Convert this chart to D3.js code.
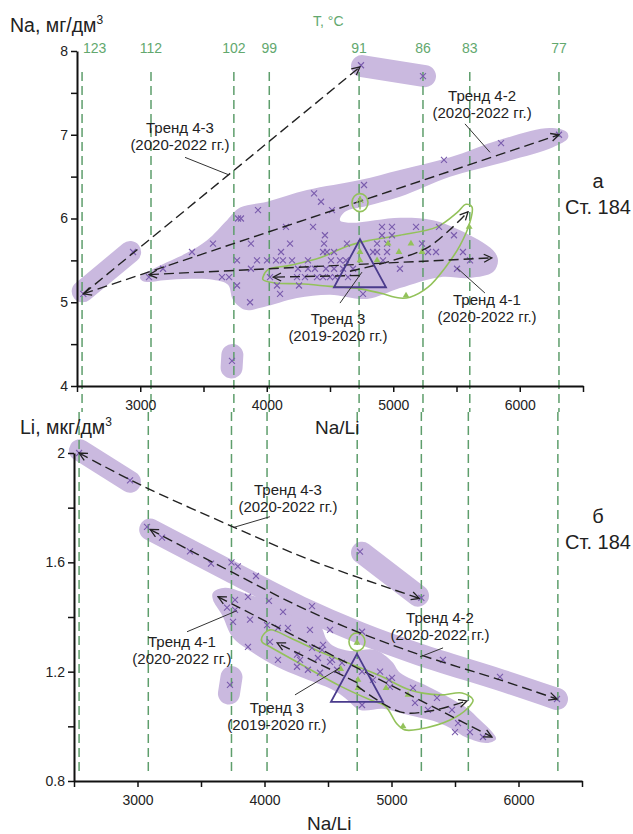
<!DOCTYPE html>
<html>
<head>
<meta charset="utf-8">
<script src="https://cdn.jsdelivr.net/npm/d3@7"></script>
<style>
  body { margin: 0; background: #fff; }
  text { font-family: "Liberation Sans", Arial, sans-serif; fill: #222; }
</style>
</head>
<body>
<script>
// temperature isolines (Na/Li value of each T line)
var tempLabels = ["123", "112", "102", "99", "91", "86", "83", "77"];
var tempNaLi = [2540, 3085, 3740, 4020, 4730, 5235, 5605, 6310];

// ---- panel а : Na vs Na/Li ----
var naPoints = [
  [4769,6.4],[4374,6.3],[4429,6.2],[4516,6.1],[3931,6.1],[3773,6.0],[3796,6.0],[4152,5.9],[4366,5.9],[4460,5.8],
  [3575,5.7],[3875,5.7],[4184,5.7],[4453,5.7],[4634,5.7],
  [4911,5.9],[4990,5.9],[4911,5.8],[4990,5.8],[4872,5.7],[4951,5.7],
  [3409,5.6],[4113,5.6],[4445,5.6],[4532,5.6],[4476,5.6],
  [3765,5.5],[3923,5.5],[4002,5.5],[4073,5.5],[4128,5.5],[4200,5.5],[4326,5.5],[4508,5.5],[4579,5.5],[4626,5.5],
  [3875,5.4],[4247,5.4],[4326,5.4],[4381,5.4],[4468,5.4],[4532,5.4],[4603,5.4],[4682,5.4],
  [3646,5.3],[3702,5.3],[4026,5.3],[4239,5.3],[4302,5.3],[4397,5.3],[4445,5.3],[4500,5.3],[4540,5.3],[4642,5.3],
  [3765,5.2],[4081,5.2],[4255,5.2],[4105,5.1],[4761,5.1],[3868,5.0],[3180,5.4],[3069,5.3],
  [5180,5.9],[5362,5.9],[5480,5.8],[5227,5.7],
  [4840,5.6],[4872,5.6],[4951,5.6],[5275,5.6],[5338,5.6],[5551,5.6],
  [4919,5.5],[5607,5.5],[5053,5.4],[5504,5.4],
  [2550,5.1],[2943,5.6],[3725,4.3],[4745,7.83],[5235,7.7],[5401,6.7],[5852,6.9],[6310,7.0]
];
var naTri = [[4737,5.6],[4737,5.5],[4959,5.7],[5140,5.7],[5045,5.6],[5227,5.6],[4872,5.5],[5101,5.08],[5600,5.9]];
var naBlob = [
  [2998,5.30],[3132,5.42],[3370,5.59],[3528,5.74],[3686,5.98],[3789,6.13],[4002,6.20],[4318,6.34],[4737,6.46],
  [5053,6.58],[5449,6.73],[5844,6.94],[6239,7.08],[6373,7.03],[6381,6.96],[6263,6.85],[5844,6.66],[5449,6.50],
  [5053,6.26],[4792,6.15],[4619,6.08],[4579,5.98],[4658,5.95],[5053,6.01],[5314,5.98],[5528,5.86],[5789,5.62],
  [5828,5.50],[5789,5.36],[5607,5.29],[5370,5.30],[5053,5.17],[4792,5.04],[4500,5.09],[4239,5.05],[3970,4.94],
  [3828,4.91],[3733,5.03],[3694,5.21],[3575,5.27],[3235,5.27],[3022,5.25]
];
var naBands = [
  [[2545,5.13],[2920,5.6]],
  [[4753,7.82],[5251,7.70]],
  [[3728,4.37],[3722,4.22]]
];
var naLoop = [
  [3970,5.30],[4010,5.39],[4184,5.44],[4421,5.53],[4634,5.67],[4816,5.74],[5053,5.80],[5346,5.90],[5504,6.07],
  [5575,6.17],[5622,6.14],[5607,5.96],[5528,5.68],[5409,5.41],[5275,5.18],[5132,5.06],[5053,5.05],[4895,5.11],
  [4737,5.16],[4500,5.19],[4263,5.22],[4065,5.23],[3970,5.27]
];
var naCircle = [4737, 6.19];
var naMean = [4737, 5.37];
var naTrends = [
  {pts: [[2550,5.1],[4737,7.81]], a0: false, a1: true},
  {pts: [[2550,5.1],[6310,7.0]], a0: true, a1: true},
  {pts: [[3069,5.33],[5780,5.53]], a0: true, a1: true},
  {pts: [[4737,5.32],[4050,5.3]], a0: false, a1: true},
  {pts: [[4658,5.37],[4998,5.5],[5267,5.65],[5472,5.9],[5591,6.08]], a0: false, a1: true}
];
var naNotes = [
  {lines: ["Тренд 4-3", "(2020-2022 гг.)"], at: [3314,7.02], from: [3354,6.73], to: [3702,6.52]},
  {lines: ["Тренд 4-2", "(2020-2022 гг.)"], at: [5702,7.40], from: [5567,7.13], to: [5765,6.79]},
  {lines: ["Тренд 4-1", "(2020-2022 гг.)"], at: [5741,4.97], from: [5725,5.11], to: [5504,5.41]},
  {lines: ["Тренд 3", "(2019-2020 гг.)"], at: [4563,4.74], from: [4579,4.99], to: [4753,5.36]}
];

// ---- panel б : Li vs Na/Li ----
var liPoints = [
  [2540,2.0],[2941,1.9],[3075,1.73],[3193,1.69],[3413,1.64],[3579,1.595],[3740,1.6],[3790,1.585],[3933,1.55],
  [3705,1.434],[3768,1.463],[3870,1.474],[4035,1.459],[4146,1.419],[4374,1.44],
  [3752,1.382],[3886,1.39],[4020,1.37],[4106,1.36],[4185,1.36],[4358,1.353],[4516,1.353],
  [3768,1.426],[3870,1.291],[4043,1.309],[4106,1.243],[4256,1.262],[4280,1.243],[4374,1.287],[4421,1.25],
  [4453,1.28],[4461,1.298],[4256,1.218],[4532,1.243],[4571,1.207],[4610,1.232],
  [4910,1.2],[5004,1.177],[4854,1.17],[4988,1.144],[4768,1.078],[3728,1.152],[4768,1.346],
  [4516,1.236],[4342,1.207],[4437,1.196],[4768,1.2],[4980,1.17],[5169,1.141],[5185,1.086],[5358,1.104],
  [5287,1.06],[5476,1.06],[5405,1.243],[5854,1.181],[6303,1.1],[5524,1.012],[5618,0.979],[5500,0.979],
  [5720,0.961],[4752,1.639],[5235,1.47]
];
var liTri = [[4736,1.17],[4736,1.14],[4957,1.14],[5130,1.115],[5091,1.0],[4600,1.21],[4728,1.306]];
var liBlob = [
  [3594,1.489],[3689,1.507],[3886,1.481],[4083,1.452],[4280,1.419],[4437,1.371],[4492,1.316],[4555,1.291],
  [4673,1.276],[4870,1.280],[5004,1.236],[5067,1.196],[5280,1.148],[5461,1.104],[5594,1.067],[5697,1.023],
  [5791,0.980],[5823,0.954],[5752,0.939],[5594,0.958],[5461,0.994],[5327,1.020],[5201,1.034],[5067,1.049],
  [4933,1.064],[4752,1.060],[4634,1.104],[4539,1.133],[4280,1.181],[4098,1.218],[3909,1.269],[3752,1.324],
  [3665,1.408],[3594,1.463]
];
var liBands = [
  [[2547,2.01],[2941,1.895]],
  [[4768,1.635],[5209,1.478]],
  [[3100,1.72],[3752,1.562],[4280,1.437],[4752,1.342],[5224,1.262],[5854,1.17],[6303,1.1]],
  [[3740,1.18],[3720,1.12]]
];
var liLoop = [
  [3980,1.327],[4043,1.353],[4201,1.324],[4437,1.273],[4673,1.229],[4910,1.185],[5146,1.133],[5382,1.115],
  [5555,1.122],[5642,1.097],[5602,1.067],[5461,1.023],[5224,0.990],[5106,0.987],[5043,1.009],[4949,1.075],
  [4831,1.097],[4594,1.148],[4280,1.229],[4043,1.291],[3980,1.309]
];
var liCircle = [4728, 1.309];
var liMean = [4728, 1.148];
var liTrends = [
  {pts: [[2540,2.0],[3020,1.884],[3752,1.73],[4358,1.609],[5220,1.468]], a0: true, a1: true},
  {pts: [[3100,1.72],[3752,1.562],[4280,1.437],[4752,1.342],[5224,1.262],[5854,1.17],[6303,1.1]], a0: true, a1: true},
  {pts: [[3634,1.474],[5791,0.961]], a0: true, a1: true},
  {pts: [[4728,1.16],[4100,1.305]], a0: false, a1: true},
  {pts: [[4728,1.148],[5067,1.053],[5303,1.056],[5594,1.093]], a0: false, a1: true}
];
var liNotes = [
  {lines: ["Тренд 4-3", "(2020-2022 гг.)"], at: [4185,1.848], from: [4043,1.767], to: [3752,1.727]},
  {lines: ["Тренд 4-2", "(2020-2022 гг.)"], at: [5382,1.379], from: [5406,1.287], to: [5224,1.254]},
  {lines: ["Тренд 4-1", "(2020-2022 гг.)"], at: [3350,1.290], from: [3390,1.346], to: [3783,1.423]},
  {lines: ["Тренд 3", "(2019-2020 гг.)"], at: [4098,1.049], from: [4240,1.115], to: [4594,1.214]}
];

var blobColor = "#cab9df",
    crossColor = "#7a5cad",
    tLineColor = "#5e9e6c",
    loopColor = "#93c25a",
    meanColor = "#4a3b8c";

var svg = d3.select("body").append("svg")
    .attr("width", 633)
    .attr("height", 834);

var defs = svg.append("defs");
defs.append("marker")
    .attr("id", "arr")
    .attr("viewBox", "0 0 10 10")
    .attr("refX", 9).attr("refY", 5)
    .attr("markerWidth", 10).attr("markerHeight", 10)
    .attr("markerUnits", "userSpaceOnUse")
    .attr("orient", "auto-start-reverse")
  .append("path")
    .attr("d", "M1,1L9,5L1,9")
    .style("fill", "none").style("stroke", "#222").style("stroke-width", 1.3);
defs.append("marker")
    .attr("id", "garr")
    .attr("viewBox", "0 0 10 10")
    .attr("refX", 9).attr("refY", 5)
    .attr("markerWidth", 8).attr("markerHeight", 8)
    .attr("markerUnits", "userSpaceOnUse")
    .attr("orient", "auto")
  .append("path")
    .attr("d", "M1,1L9,5L1,9")
    .style("fill", "none").style("stroke", loopColor).style("stroke-width", 1.4);

var xTop = d3.scaleLinear().domain([2500, 6500]).range([77, 583]);
var yTop = d3.scaleLinear().domain([4, 8]).range([386, 51]);
var xBot = d3.scaleLinear().domain([2500, 6500]).range([74, 582]);
var yBot = d3.scaleLinear().domain([0.8, 2.0]).range([781, 453]);

// T scale labels
svg.append("text")
    .attr("x", 313).attr("y", 26)
    .style("font-size", "14px").style("fill", "#62a86e")
    .text("T, °C");
for (var i in tempLabels) {
    svg.append("text")
        .attr("x", i == 0 ? xTop(tempNaLi[i]) + 1 : xTop(tempNaLi[i]))
        .attr("y", 53)
        .attr("text-anchor", i == 0 ? "start" : "middle")
        .style("font-size", "14px").style("fill", "#62a86e")
        .text(tempLabels[i]);
}

function drawPanel(x, y, p) {
    var g = svg.append("g");
    var line = d3.line().x(function(d) { return x(d[0]); }).y(function(d) { return y(d[1]); });

    // shaded fields
    g.append("path")
        .datum(p.blob)
        .attr("d", line.curve(d3.curveCatmullRomClosed.alpha(0.5)))
        .style("fill", blobColor);
    g.selectAll(".band").data(p.bands).enter().append("path")
        .attr("d", d3.line().curve(d3.curveCatmullRom)
            .x(function(d) { return x(d[0]); }).y(function(d) { return y(d[1]); }))
        .style("fill", "none")
        .style("stroke", blobColor)
        .style("stroke-width", 22)
        .style("stroke-linecap", "round")
        .style("stroke-linejoin", "round");

    // temperature lines
    for (var i in tempNaLi) {
        g.append("line")
            .attr("x1", x(tempNaLi[i])).attr("x2", x(tempNaLi[i]))
            .attr("y1", p.tY[0]).attr("y2", p.tY[1])
            .style("stroke", tLineColor)
            .style("stroke-width", 1.5)
            .style("stroke-dasharray", "9,5");
    }

    // trend 3 envelope
    g.append("path")
        .datum(p.loop)
        .attr("d", d3.line().curve(d3.curveCatmullRomClosed.alpha(0.5))
            .x(function(d) { return x(d[0]); }).y(function(d) { return y(d[1]); }))
        .style("fill", "none").style("stroke", loopColor).style("stroke-width", 1.6);
    g.append("ellipse")
        .attr("cx", x(p.circle[0])).attr("cy", y(p.circle[1]))
        .attr("rx", 8).attr("ry", 9)
        .style("fill", "none").style("stroke", loopColor).style("stroke-width", 1.6);

    // samples
    g.selectAll(".cross").data(p.points).enter().append("path")
        .attr("transform", function(d) { return "translate(" + x(d[0]) + "," + y(d[1]) + ")"; })
        .attr("d", "M-3,-3L3,3M-3,3L3,-3")
        .style("stroke", crossColor).style("stroke-width", 1.1);
    g.selectAll(".gtri").data(p.tri).enter().append("path")
        .attr("transform", function(d) { return "translate(" + x(d[0]) + "," + y(d[1]) + ")"; })
        .attr("d", d3.symbol(d3.symbolTriangle, 20))
        .style("fill", loopColor);

    // trends
    g.selectAll(".trend").data(p.trends).enter().append("path")
        .attr("d", function(d) {
            return d3.line().curve(d3.curveCatmullRom)
                .x(function(e) { return x(e[0]); }).y(function(e) { return y(e[1]); })(d.pts);
        })
        .attr("marker-start", function(d) { return d.a0 ? "url(#arr)" : null; })
        .attr("marker-end", function(d) { return d.a1 ? "url(#arr)" : null; })
        .style("fill", "none").style("stroke", "#222")
        .style("stroke-width", 1.4).style("stroke-dasharray", "10,5");

    // mean triangle
    var cx = x(p.mean[0]), cy = y(p.mean[1]);
    g.append("path")
        .attr("d", "M" + cx + "," + (cy - 32) + "L" + (cx + 26) + "," + (cy + 16) + "L" + (cx - 26) + "," + (cy + 16) + "Z")
        .style("fill", "none").style("stroke", meanColor).style("stroke-width", 1.8);

    // annotations
    p.notes.forEach(function(n) {
        g.append("line")
            .attr("x1", x(n.from[0])).attr("y1", y(n.from[1]))
            .attr("x2", x(n.to[0])).attr("y2", y(n.to[1]))
            .style("stroke", "#333").style("stroke-width", 1);
        n.lines.forEach(function(t, k) {
            g.append("text")
                .attr("x", x(n.at[0])).attr("y", y(n.at[1]) + k * 17)
                .attr("text-anchor", "middle")
                .style("font-size", "15px")
                .text(t);
        });
    });

    // axes
    var yAxis = g.append("g")
        .attr("transform", "translate(" + x.range()[0] + ",0)")
        .call(d3.axisLeft(y).tickValues(p.yTicks).tickSize(6).tickSizeOuter(0)
            .tickFormat(function(d, i) { return p.yLabels[i]; }));
    var xAxis = g.append("g")
        .attr("transform", "translate(0," + y.range()[0] + ")")
        .call(d3.axisBottom(x).tickValues(d3.range(2500, 6501, 500)).tickSize(6).tickSizeOuter(0)
            .tickFormat(function(d) { return d % 1000 === 0 ? d : ""; }));
    [xAxis, yAxis].forEach(function(a) {
        a.select(".domain").style("stroke", "#111").style("stroke-width", 2);
        a.selectAll(".tick line").style("stroke", "#111").style("stroke-width", 1.5);
        a.selectAll(".tick text").style("font-size", "14px").style("fill", "#222")
            .style("font-family", "Liberation Sans, Arial, sans-serif");
    });
    xAxis.selectAll(".tick text").attr("dy", "1.1em");
    yAxis.selectAll(".tick text").attr("x", -9);
}

drawPanel(xTop, yTop, {
    blob: naBlob, bands: naBands, loop: naLoop, circle: naCircle, points: naPoints, tri: naTri,
    trends: naTrends, mean: naMean, notes: naNotes, tY: [72, 412],
    yTicks: [4, 4.5, 5, 5.5, 6, 6.5, 7, 7.5, 8], yLabels: ["4", "", "5", "", "6", "", "7", "", "8"]
});
drawPanel(xBot, yBot, {
    blob: liBlob, bands: liBands, loop: liLoop, circle: liCircle, points: liPoints, tri: liTri,
    trends: liTrends, mean: liMean, notes: liNotes, tY: [412, 775],
    yTicks: [0.8, 1.0, 1.2, 1.4, 1.6, 1.8, 2.0], yLabels: ["0.8", "", "1.2", "", "1.6", "", "2"]
});

// small green arrow inside the circle of panel а
svg.append("line")
    .attr("x1", xTop(naCircle[0])).attr("x2", xTop(naCircle[0]))
    .attr("y1", yTop(naCircle[1]) + 7).attr("y2", yTop(naCircle[1]) - 6)
    .attr("marker-end", "url(#garr)")
    .style("stroke", loopColor).style("stroke-width", 1.4);

// axis titles
function unitTitle(x, y, main) {
    var t = svg.append("text").attr("x", x).attr("y", y).style("font-size", "19.5px");
    t.append("tspan").text(main);
    t.append("tspan").attr("dy", -8).style("font-size", "12px").text("3");
}
unitTitle(10, 32, "Na, мг/дм");
unitTitle(20, 434, "Li, мкг/дм");
svg.append("text").attr("x", 315).attr("y", 434).style("font-size", "19px").text("Na/Li");
svg.append("text").attr("x", 307).attr("y", 830).style("font-size", "19px").text("Na/Li");

// panel labels
[["а", 188], ["Ст. 184", 214], ["б", 523], ["Ст. 184", 549]].forEach(function(d) {
    svg.append("text")
        .attr("x", 598).attr("y", d[1])
        .attr("text-anchor", "middle")
        .style("font-size", "20px")
        .text(d[0]);
});
</script>
</body>
</html>
